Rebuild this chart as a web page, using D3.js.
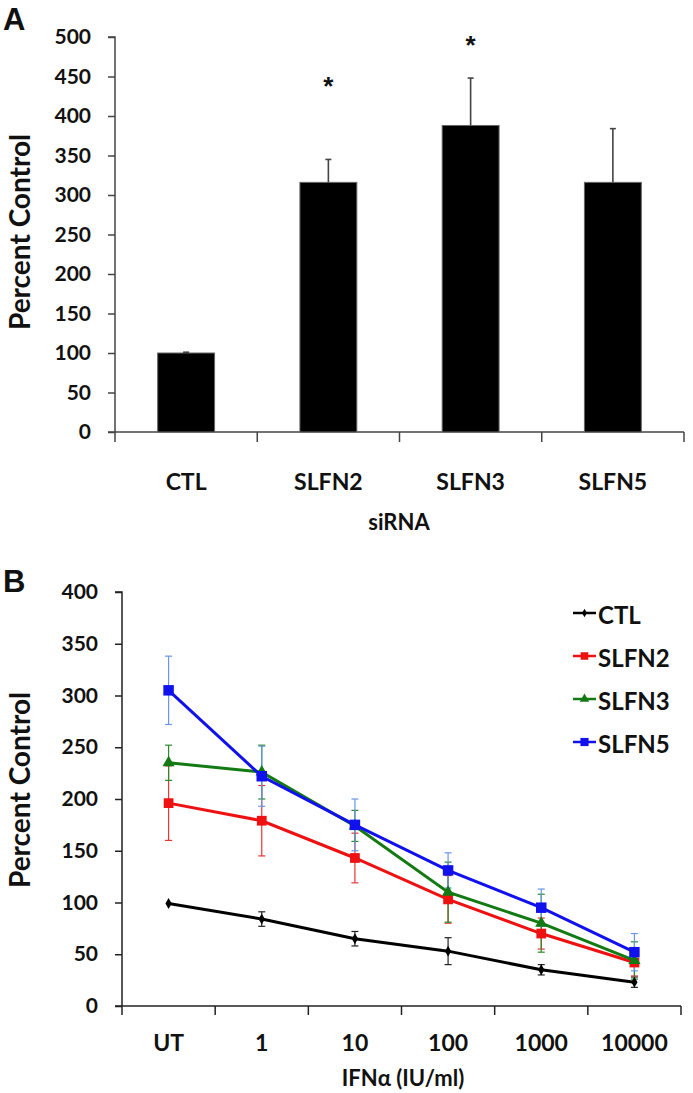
<!DOCTYPE html>
<html><head><meta charset="utf-8">
<script src="https://cdn.jsdelivr.net/npm/d3@7/dist/d3.min.js"></script>
<style>
body{margin:0;background:#fff;}
text{font-family:Lato,"Open Sans",sans-serif;font-weight:bold;fill:#111;}
</style></head>
<body>
<svg id="c" width="693" height="1093"></svg>
<script>
// ---- Panel A data ----
const catsA = ["CTL","SLFN2","SLFN3","SLFN5"];
const valsA = [100, 316, 388, 316];
const errA  = [1, 29, 60, 68];
const starA = [null, 445, 498, null];   // asterisk position (value units)
const ticksA = [0,50,100,150,200,250,300,350,400,450,500];

// ---- Panel B data ----
const catsB = ["UT","1","10","100","1000","10000"];
const seriesNames = ["CTL","SLFN2","SLFN3","SLFN5"];
const ctlVals   = [99, 84, 65, 53, 35, 23];
const ctlErr    = [0, 7, 7, 13, 5, 5];
const slfn2Vals = [196, 179, 143, 103, 70, 42];
const slfn2Err  = [36, 34, 24, 23, 15, 13];
const slfn3Vals = [235, 226, 174, 110, 80, 44];
const slfn3Err  = [17, 26, 15, 29, 28, 18];
const slfn5Vals = [305, 222, 175, 131, 95, 52];
const slfn5Err  = [33, 29, 25, 17, 18, 18];
const ticksB = [0,50,100,150,200,250,300,350,400];

const svg = d3.select("#c");

// ================= Panel A =================
const A = {left:115, right:684, top:37, bottom:432};
const xA = d3.scaleBand().domain(catsA).range([A.left, A.right]).paddingInner(0.6).paddingOuter(0.3);
const yA = d3.scaleLinear().domain([0,500]).range([A.bottom, A.top]);
const gA = svg.append("g");

svg.append("text").attr("x",3).attr("y",30).text("A")
  .style("font-family","Arial, 'Liberation Sans', sans-serif").style("font-size","31px");

// y axis
const yAxA = gA.append("g").attr("transform",`translate(${A.left},0)`)
  .call(d3.axisLeft(yA).tickValues(ticksA).tickSize(7).tickPadding(17));
yAxA.select(".domain").attr("stroke","#444").attr("stroke-width",1.5).attr("d",`M-7,${yA(500)}H0V${yA(0)}`);
yAxA.selectAll(".tick line").attr("stroke","#444").attr("stroke-width",1.5);
yAxA.selectAll(".tick text").style("font-size","21px").style("font-family","Lato, sans-serif").attr("fill","#111");

// x axis
const stepA = xA.step();
const bA = d3.range(catsA.length+1).map(i => A.left + i*stepA);
gA.append("line").attr("x1",A.left-7).attr("x2",A.right).attr("y1",A.bottom).attr("y2",A.bottom).attr("stroke","#444").attr("stroke-width",1.5);
gA.selectAll(".bt").data(bA).enter().append("line")
  .attr("x1",d=>d).attr("x2",d=>d).attr("y1",A.bottom).attr("y2",A.bottom+10).attr("stroke","#444").attr("stroke-width",1.5);
gA.selectAll(".cl").data(catsA).enter().append("text")
  .attr("x",d=>xA(d)+xA.bandwidth()/2).attr("y",481).attr("text-anchor","middle").attr("dominant-baseline","central")
  .style("font-size","23px").text(d=>d);

// bars
gA.selectAll(".bar").data(catsA).enter().append("rect")
  .attr("x",d=>xA(d)).attr("width",xA.bandwidth())
  .attr("y",(d,i)=>yA(valsA[i])).attr("height",(d,i)=>yA(0)-yA(valsA[i]))
  .attr("fill","#000").attr("stroke","#666").attr("stroke-width",1);
// error bars
catsA.forEach((c,i)=>{
  const cx = xA(c)+xA.bandwidth()/2;
  gA.append("line").attr("x1",cx).attr("x2",cx).attr("y1",yA(valsA[i])).attr("y2",yA(valsA[i]+errA[i])).attr("stroke","#444").attr("stroke-width",1.6);
  gA.append("line").attr("x1",cx-3).attr("x2",cx+3).attr("y1",yA(valsA[i]+errA[i])).attr("y2",yA(valsA[i]+errA[i])).attr("stroke","#444").attr("stroke-width",1.6);
  if(starA[i]!==null) gA.append("text").attr("x",cx).attr("y",yA(starA[i])+6).attr("text-anchor","middle")
     .attr("dominant-baseline","central").style("font-size","26px").style("font-family","Arial, sans-serif").text("*");
});

gA.append("text").attr("transform",`translate(30,232) rotate(-90)`).attr("text-anchor","middle")
  .style("font-size","28px").text("Percent Control");
gA.append("text").attr("x",399).attr("y",521).attr("text-anchor","middle").attr("dominant-baseline","central")
  .style("font-size","22px").text("siRNA");

// ================= Panel B =================
const B = {left:122, right:681, top:592, bottom:1006};
const xB = d3.scalePoint().domain(catsB).range([B.left, B.right]).padding(0.5);
const yB = d3.scaleLinear().domain([0,400]).range([B.bottom, B.top]);
const gB = svg.append("g");

svg.append("text").attr("x",3).attr("y",592).text("B")
  .style("font-family","Arial, 'Liberation Sans', sans-serif").style("font-size","31px");

const yAxB = gB.append("g").attr("transform",`translate(${B.left},0)`)
  .call(d3.axisLeft(yB).tickValues(ticksB).tickSize(7).tickPadding(17));
yAxB.select(".domain").attr("stroke","#222").attr("stroke-width",1.5).attr("d",`M-7,${yB(400)}H0V${yB(0)}`);
yAxB.selectAll(".tick line").attr("stroke","#222").attr("stroke-width",1.5);
yAxB.selectAll(".tick text").style("font-size","21px").style("font-family","Lato, sans-serif").attr("fill","#111");

const stepB = xB.step();
const bB = d3.range(catsB.length+1).map(i => B.left + i*stepB);
gB.append("line").attr("x1",B.left-7).attr("x2",B.right).attr("y1",B.bottom).attr("y2",B.bottom).attr("stroke","#222").attr("stroke-width",1.5);
gB.selectAll(".bt").data(bB).enter().append("line")
  .attr("x1",d=>d).attr("x2",d=>d).attr("y1",B.bottom).attr("y2",B.bottom+9).attr("stroke","#222").attr("stroke-width",1.5);
gB.selectAll(".cl").data(catsB).enter().append("text")
  .attr("x",d=>xB(d)).attr("y",1042).attr("text-anchor","middle").attr("dominant-baseline","central")
  .style("font-size","23px").text(d=>d);

gB.append("text").attr("transform",`translate(30,790) rotate(-90)`).attr("text-anchor","middle")
  .style("font-size","28px").text("Percent Control");
gB.append("text").attr("x",403).attr("y",1077).attr("text-anchor","middle").attr("dominant-baseline","central")
  .style("font-size","22px").text("IFNα (IU/ml)");

const series = [
  {name:"CTL",   vals:ctlVals,   err:ctlErr,   color:"#000000", ecol:"#222", sym:d3.symbolDiamond, size:34},
  {name:"SLFN2", vals:slfn2Vals, err:slfn2Err, color:"#ee1111", ecol:"#ee3333", sym:d3.symbolSquare, size:95},
  {name:"SLFN3", vals:slfn3Vals, err:slfn3Err, color:"#137a13", ecol:"#2a8a2a", sym:d3.symbolTriangle, size:64},
  {name:"SLFN5", vals:slfn5Vals, err:slfn5Err, color:"#1111ee", ecol:"#6a95e8", sym:d3.symbolSquare, size:110}
];
const line = d3.line().x((d,i)=>xB(catsB[i])).y(d=>yB(d));

// error bars first
series.forEach(s=>{
  s.vals.forEach((v,i)=>{
    if(!s.err[i]) return;
    const cx = xB(catsB[i]);
    const g = gB.append("g").attr("stroke",s.ecol).attr("stroke-width",1.2);
    g.append("line").attr("x1",cx).attr("x2",cx).attr("y1",yB(v-s.err[i])).attr("y2",yB(v+s.err[i]));
    [v-s.err[i], v+s.err[i]].forEach(e=>g.append("line").attr("x1",cx-3.5).attr("x2",cx+3.5).attr("y1",yB(e)).attr("y2",yB(e)));
  });
});
series.forEach(s=>{
  gB.append("path").datum(s.vals).attr("d",line).attr("fill","none").attr("stroke",s.color).attr("stroke-width",3);
  gB.selectAll(null).data(s.vals).enter().append("path")
    .attr("d",d3.symbol().type(s.sym).size(s.size))
    .attr("transform",(d,i)=>`translate(${xB(catsB[i])},${yB(d)})`).attr("fill",s.color);
});

// legend
const legY = d3.scalePoint().domain(seriesNames).range([613,742]);
series.forEach(s=>{
  const y = legY(s.name);
  gB.append("line").attr("x1",573).attr("x2",596).attr("y1",y).attr("y2",y).attr("stroke",s.color).attr("stroke-width",2.5);
  gB.append("path").attr("d",d3.symbol().type(s.sym).size(s.size*0.6)).attr("transform",`translate(584.5,${y})`).attr("fill",s.color);
  gB.append("text").attr("x",598).attr("y",y+1).attr("dominant-baseline","central").style("font-size","24px").text(s.name);
});
</script>
</body></html>
